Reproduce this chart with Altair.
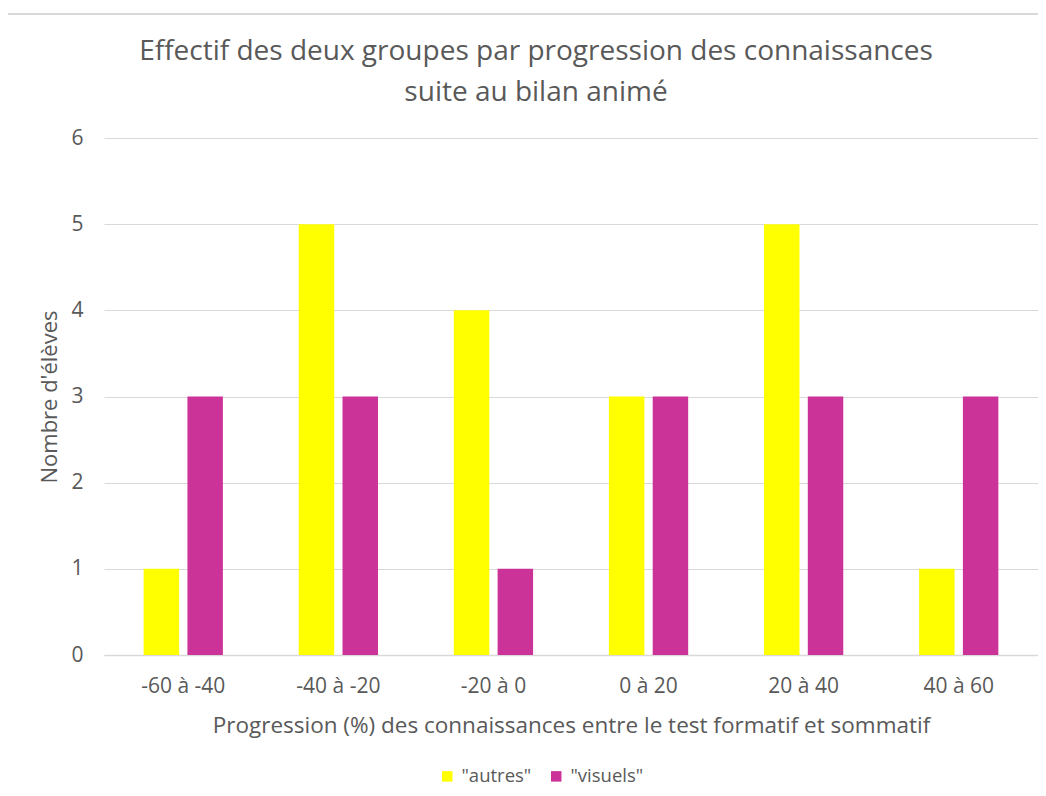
import altair as alt
import pandas as pd

categories = ["-60 à -40", "-40 à -20", "-20 à 0", "0 à 20", "20 à 40", "40 à 60"]
series = ['"autres"', '"visuels"']
autres = [1, 5, 4, 3, 5, 1]
visuels = [3, 3, 1, 3, 3, 3]
colors = ["#FFFF00", "#CC3399"]
title_lines = ["Effectif des deux groupes par progression des connaissances", "suite au bilan animé"]

rows = []
for c, a, v in zip(categories, autres, visuels):
    rows.append({"cat": c, "groupe": series[0], "n": a})
    rows.append({"cat": c, "groupe": series[1], "n": v})
df = pd.DataFrame(rows)

FONT = "Open Sans"
GRAY = "#595959"

bars = alt.Chart(df).mark_bar().encode(
    x=alt.X("cat:N", sort=categories,
            scale=alt.Scale(paddingInner=0.489, paddingOuter=0.2556),
            axis=alt.Axis(title="Progression (%) des connaissances entre le test formatif et sommatif",
                          labelAngle=0, ticks=False, domainColor="#d9d9d9", domainWidth=1.5,
                          labelPadding=20, labelFontSize=21, labelColor=GRAY,
                          titleFontSize=22.5, titleColor=GRAY, titleFontWeight="normal",
                          titlePadding=18, labelFont=FONT, titleFont=FONT)),
    xOffset=alt.XOffset("groupe:N", sort=series,
                        scale=alt.Scale(paddingInner=0.19, paddingOuter=0)),
    y=alt.Y("n:Q", scale=alt.Scale(domain=[0, 6], nice=False),
            axis=alt.Axis(title="Nombre d'élèves", values=[0, 1, 2, 3, 4, 5, 6],
                          domain=False, ticks=False, labelPadding=21, labelFontSize=21,
                          labelColor=GRAY, gridColor="#d9d9d9", gridWidth=1.2,
                          labelOverlap=False,
                          titleFontSize=22, titleColor=GRAY, titleFontWeight="normal",
                          titleX=-55, titleBaseline="middle", labelFont=FONT, titleFont=FONT)),
    color=alt.Color("groupe:N", sort=series,
                    scale=alt.Scale(domain=series, range=colors),
                    legend=alt.Legend(title=None, orient="none", direction="horizontal",
                                      legendX=334, legendY=629, symbolType="square",
                                      symbolSize=110, symbolStrokeWidth=0, labelOffset=5,
                                      labelFontSize=18.5, labelColor=GRAY, labelFont=FONT,
                                      columnPadding=15)),
)

border_df = pd.DataFrame({"a": [0]})
border = alt.Chart(border_df).mark_rule(color="#d9d9d9", strokeWidth=2).encode(
    x=alt.value(-99), x2=alt.value(934), y=alt.value(-124)
)

t1 = alt.Chart(pd.DataFrame({"t": [title_lines[0]]})).mark_text(
    font=FONT, fontSize=28, color=GRAY, align="center", baseline="alphabetic"
).encode(text="t:N", x=alt.value(432), y=alt.value(-78))
t2 = alt.Chart(pd.DataFrame({"t": [title_lines[1]]})).mark_text(
    font=FONT, fontSize=28, color=GRAY, align="center", baseline="alphabetic"
).encode(text="t:N", x=alt.value(432), y=alt.value(-37))

chart = alt.layer(border, bars, t1, t2).properties(
    width=934, height=517,
    autosize=alt.AutoSizeParams(type="none"),
    padding={"left": 96, "top": 130, "right": 0, "bottom": 133},
).configure_view(stroke=None)

chart.save("out.html", embed_options={"renderer": "svg", "actions": False})
